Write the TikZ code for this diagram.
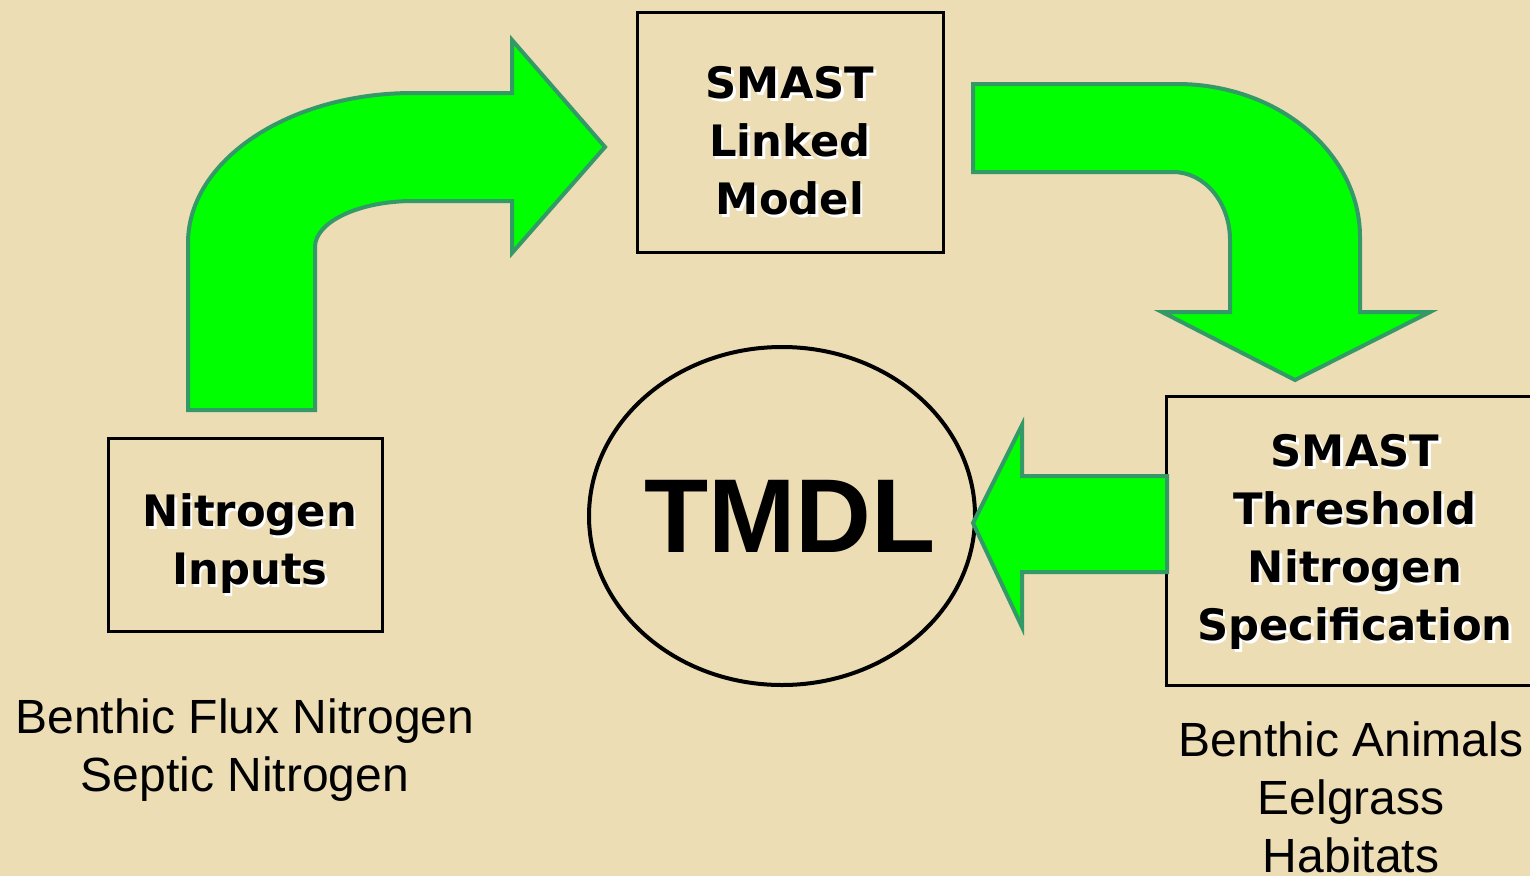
\documentclass[tikz,border=0pt]{standalone}
\usepackage{fontspec}
\usetikzlibrary{shapes.geometric}
\newfontfamily\boxfont{DejaVu Sans}[BoldFont={DejaVu Sans Bold}]
\newfontfamily\arialfont{Liberation Sans}
\definecolor{bg}{HTML}{ECDDB5}
\definecolor{arrowfill}{HTML}{00FF00}
\definecolor{arrowline}{HTML}{339966}
\tikzset{
  blockarrow/.style={fill=arrowfill, draw=arrowline, line width=4pt, line join=miter},
  framebox/.style={draw=black, line width=3pt, inner sep=0pt},
  boxtxt/.style={inner sep=0pt, align=center, text=black,
     font=\boxfont\bfseries\fontsize{43.3}{58}\selectfont},
  shadowtxt/.style={boxtxt, text=white},
  plaintxt/.style={inner sep=0pt, align=center, text=black,
     font=\arialfont\fontsize{48}{58}\selectfont},
}
\begin{document}
\begin{tikzpicture}[x=1pt,y=-1pt]
\useasboundingbox (0,0) rectangle (1530,876);
\clip (0,0) rectangle (1530,876);
\fill[bg] (0,0) rectangle (1530,876);

% boxes
\node[framebox, minimum width=306pt, minimum height=240pt] (linked) at (790,132) {};
\node[framebox, minimum width=274pt, minimum height=193pt] (inputs) at (245,534.5) {};
\node[framebox, minimum width=367pt, minimum height=289pt] (threshold) at (1349.5,540.5) {};

% box texts with white shadow
\node[shadowtxt] (linkeds) at (792.5,143.5) {SMAST\\Linked\\Model};
\node[boxtxt] (linkedtxt) at (790,141) {SMAST\\Linked\\Model};
\node[shadowtxt] (inputss) at (252.5,546.5) {Nitrogen\\Inputs};
\node[boxtxt] (inputstxt) at (250,544) {Nitrogen\\Inputs};
\node[shadowtxt] (thresholds) at (1357.5,544.5) {SMAST\\Threshold\\Nitrogen\\Specification};
\node[boxtxt] (thresholdtxt) at (1355,542) {SMAST\\Threshold\\Nitrogen\\Specification};

% TMDL ellipse
\node[draw=black, line width=4pt, ellipse, minimum width=386pt, minimum height=338pt, inner sep=0pt] (tmdl) at (782,516) {};
\node[inner sep=0pt, font=\arialfont\bfseries\fontsize{105}{110}\selectfont] (tmdltxt) at (790,516) {TMDL};

% block arrows
\draw[blockarrow] (188,410) -- (188,243) .. controls (188,160) and (289,93) .. (413,93)
  -- (512,93) -- (512,40) -- (605,147) -- (512,253) -- (512,201) -- (413,201)
  .. controls (359,201) and (315,222) .. (315,247) -- (315,410) -- cycle;
\draw[blockarrow] (973,84) -- (1177,84) .. controls (1278,84) and (1360,153) .. (1360,237)
  -- (1360,312) -- (1430,312) -- (1295,380) -- (1162,312) -- (1230,312) -- (1230,240)
  .. controls (1230,203) and (1205,172) .. (1173,172) -- (973,172) -- cycle;
\draw[blockarrow] (1167,476) -- (1022,476) -- (1022,425) -- (973,523) -- (1022,627)
  -- (1022,572) -- (1167,572) -- cycle;

% plain labels
\node[plaintxt] (leftlbl) at (245,750) {Benthic Flux Nitrogen\\Septic Nitrogen};
\node[plaintxt] (rightlbl) at (1351,797) {Benthic Animals\\Eelgrass\\Habitats};
\end{tikzpicture}
\end{document}
